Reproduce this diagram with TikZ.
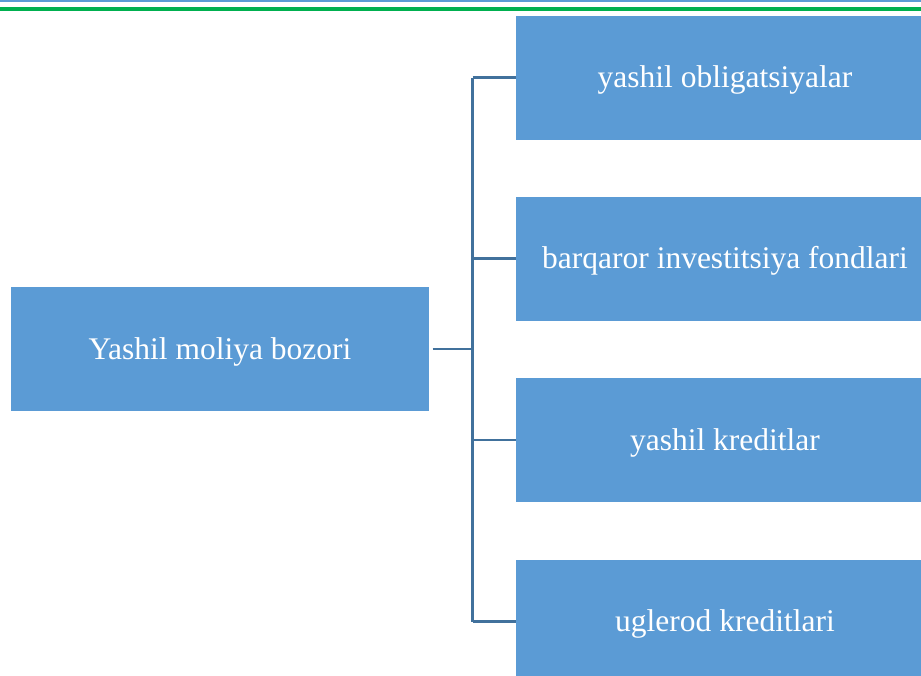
\documentclass[tikz,border=0pt]{standalone}
\usepackage{fontspec}
\setmainfont{Liberation Serif}
\definecolor{boxblue}{HTML}{5B9BD5}
\definecolor{connblue}{HTML}{41719C}
\definecolor{topgreen}{HTML}{00B050}
\tikzset{
  box/.style={fill=boxblue, draw=none, minimum width=418pt, minimum height=124pt, inner sep=0pt,
    text=white, text height=24pt, text depth=4pt, font=\fontsize{31.5}{36}\selectfont},
  conn/.style={draw=connblue, line width=2.6pt}
}
\begin{document}
\begin{tikzpicture}[x=1pt,y=-1pt]
\useasboundingbox (0,0) rectangle (921,675);
\clip (0,0) rectangle (921,675);
\fill[boxblue] (0,0) rectangle (921,1.5);
\fill[topgreen] (0,7) rectangle (921,11);
\node[box] (L) at (220,349) {Yashil moliya bozori};
\node[box] (R1) at (725,77.5) {yashil obligatsiyalar};
\node[box] (R2) at (725,258.5) {barqaror investitsiya fondlari};
\node[box] (R3) at (725,440) {yashil kreditlar};
\node[box] (R4) at (725,621.5) {uglerod kreditlari};
\coordinate (J) at (472.5,349);
\draw[conn] ([xshift=3.5pt]L.east) -- (J);
\draw[conn] (J |- R1.west) -- (J |- R4.west);
\draw[conn] (J |- R1.west) -- (R1.west);
\draw[conn] (J |- R2.west) -- (R2.west);
\draw[conn] (J |- R3.west) -- (R3.west);
\draw[conn] (J |- R4.west) -- (R4.west);
\end{tikzpicture}
\end{document}
